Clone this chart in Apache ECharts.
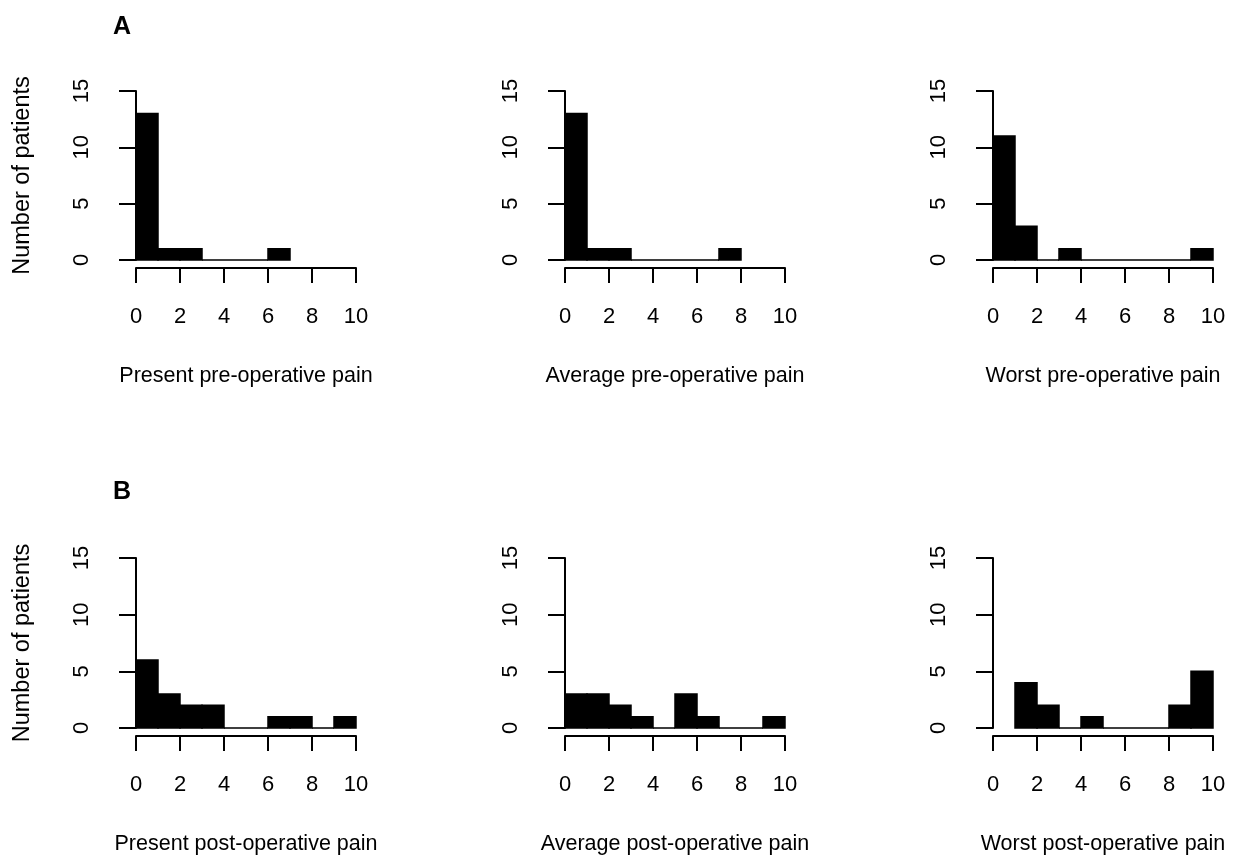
<!DOCTYPE html>
<html>
<head>
<meta charset="utf-8">
<script src="https://cdn.jsdelivr.net/npm/echarts@6/dist/echarts.min.js"></script>
<style>html,body{margin:0;padding:0;background:#fff}#c{width:1260px;height:863px}</style>
</head>
<body>
<div id="c"></div>
<script>
// Bin edges 0..10, width 1; null = bin not drawn
const binStarts = [0,1,2,3,4,5,6,7,8,9];
const presentPre  = [13,1,1,0,0,0,1,null,null,null];
const averagePre  = [13,1,1,0,0,0,0,1,null,null];
const worstPre    = [11,3,0,1,0,0,0,0,0,1];
const presentPost = [6,3,2,2,0,0,1,1,0,1];
const averagePost = [3,3,2,1,0,3,1,0,0,1];
const worstPost   = [null,4,2,0,1,0,0,0,2,5];
const panelTitles = ['Present pre-operative pain','Average pre-operative pain','Worst pre-operative pain',
                     'Present post-operative pain','Average post-operative pain','Worst post-operative pain'];
const panelLetters = ['A','B'];
const yTicks = [0,5,10,15];
const xTicks = [0,2,4,6,8,10];
const yLabel = 'Number of patients';

const panels = [presentPre, averagePre, worstPre, presentPost, averagePost, worstPost];
const colX0 = [136, 565, 993];
const rowTop = [91, 558];
const rowH = [169, 170];
const FONT = 'Liberation Sans, Arial, sans-serif';

const grids = [], xAxes = [], yAxes = [], series = [];
panels.forEach((counts, i) => {
  const r = Math.floor(i/3), c = i%3;
  grids.push({left: colX0[c], top: rowTop[r], width: 220, height: rowH[r], containLabel:false});
  xAxes.push({
    type:'value', gridIndex:i, min:xTicks[0], max:xTicks[xTicks.length-1], interval:2,
    offset:8, splitLine:{show:false},
    axisLine:{show:true, onZero:false, lineStyle:{color:'#000', width:2}},
    axisTick:{show:true, length:15, lineStyle:{color:'#000', width:2}},
    axisLabel:{show:true, margin:38, fontSize:22, color:'#000', fontFamily:FONT},
    name: panelTitles[i], nameLocation:'middle', nameGap:97,
    nameTextStyle:{fontSize:21.5, color:'#000', fontFamily:FONT}
  });
  yAxes.push({
    type:'value', gridIndex:i, min:yTicks[0], max:yTicks[yTicks.length-1], interval:5,
    offset:8, splitLine:{show:false},
    axisLine:{show:true, lineStyle:{color:'#000', width:2}},
    axisTick:{show:true, length:17, lineStyle:{color:'#000', width:2}},
    axisLabel:{show:true, rotate:90, margin:35, fontSize:22, color:'#000', fontFamily:FONT},
    name: c===0 ? yLabel : '', nameLocation:'middle', nameGap:93,
    nameTextStyle:{fontSize:23.5, color:'#000', fontFamily:FONT}
  });
  const data = [];
  binStarts.forEach((s, k) => { if (counts[k] !== null) data.push([s, s+1, counts[k]]); });
  series.push({
    type:'custom', xAxisIndex:i, yAxisIndex:i, clip:false, silent:true,
    encode:{x:[0,1], y:2},
    renderItem:(params, api) => {
      const p0 = api.coord([api.value(0), api.value(2)]);
      const p1 = api.coord([api.value(1), 0]);
      return {type:'rect', shape:{x:p0[0], y:p0[1], width:p1[0]-p0[0], height:p1[1]-p0[1]},
              style:{fill:'#000', stroke:'#000', lineWidth:1.5}};
    },
    data
  });
});

const chart = echarts.init(document.getElementById('c'), null, {renderer:'canvas'});
chart.setOption({
  animation:false,
  backgroundColor:'#fff',
  title: panelLetters.map((t, r) => ({text:t, left:108, top: r===0 ? 10 : 475,
    textStyle:{fontSize:25, fontWeight:'bold', color:'#000', fontFamily:FONT}})),
  grid: grids, xAxis: xAxes, yAxis: yAxes, series
});
</script>
</body>
</html>
